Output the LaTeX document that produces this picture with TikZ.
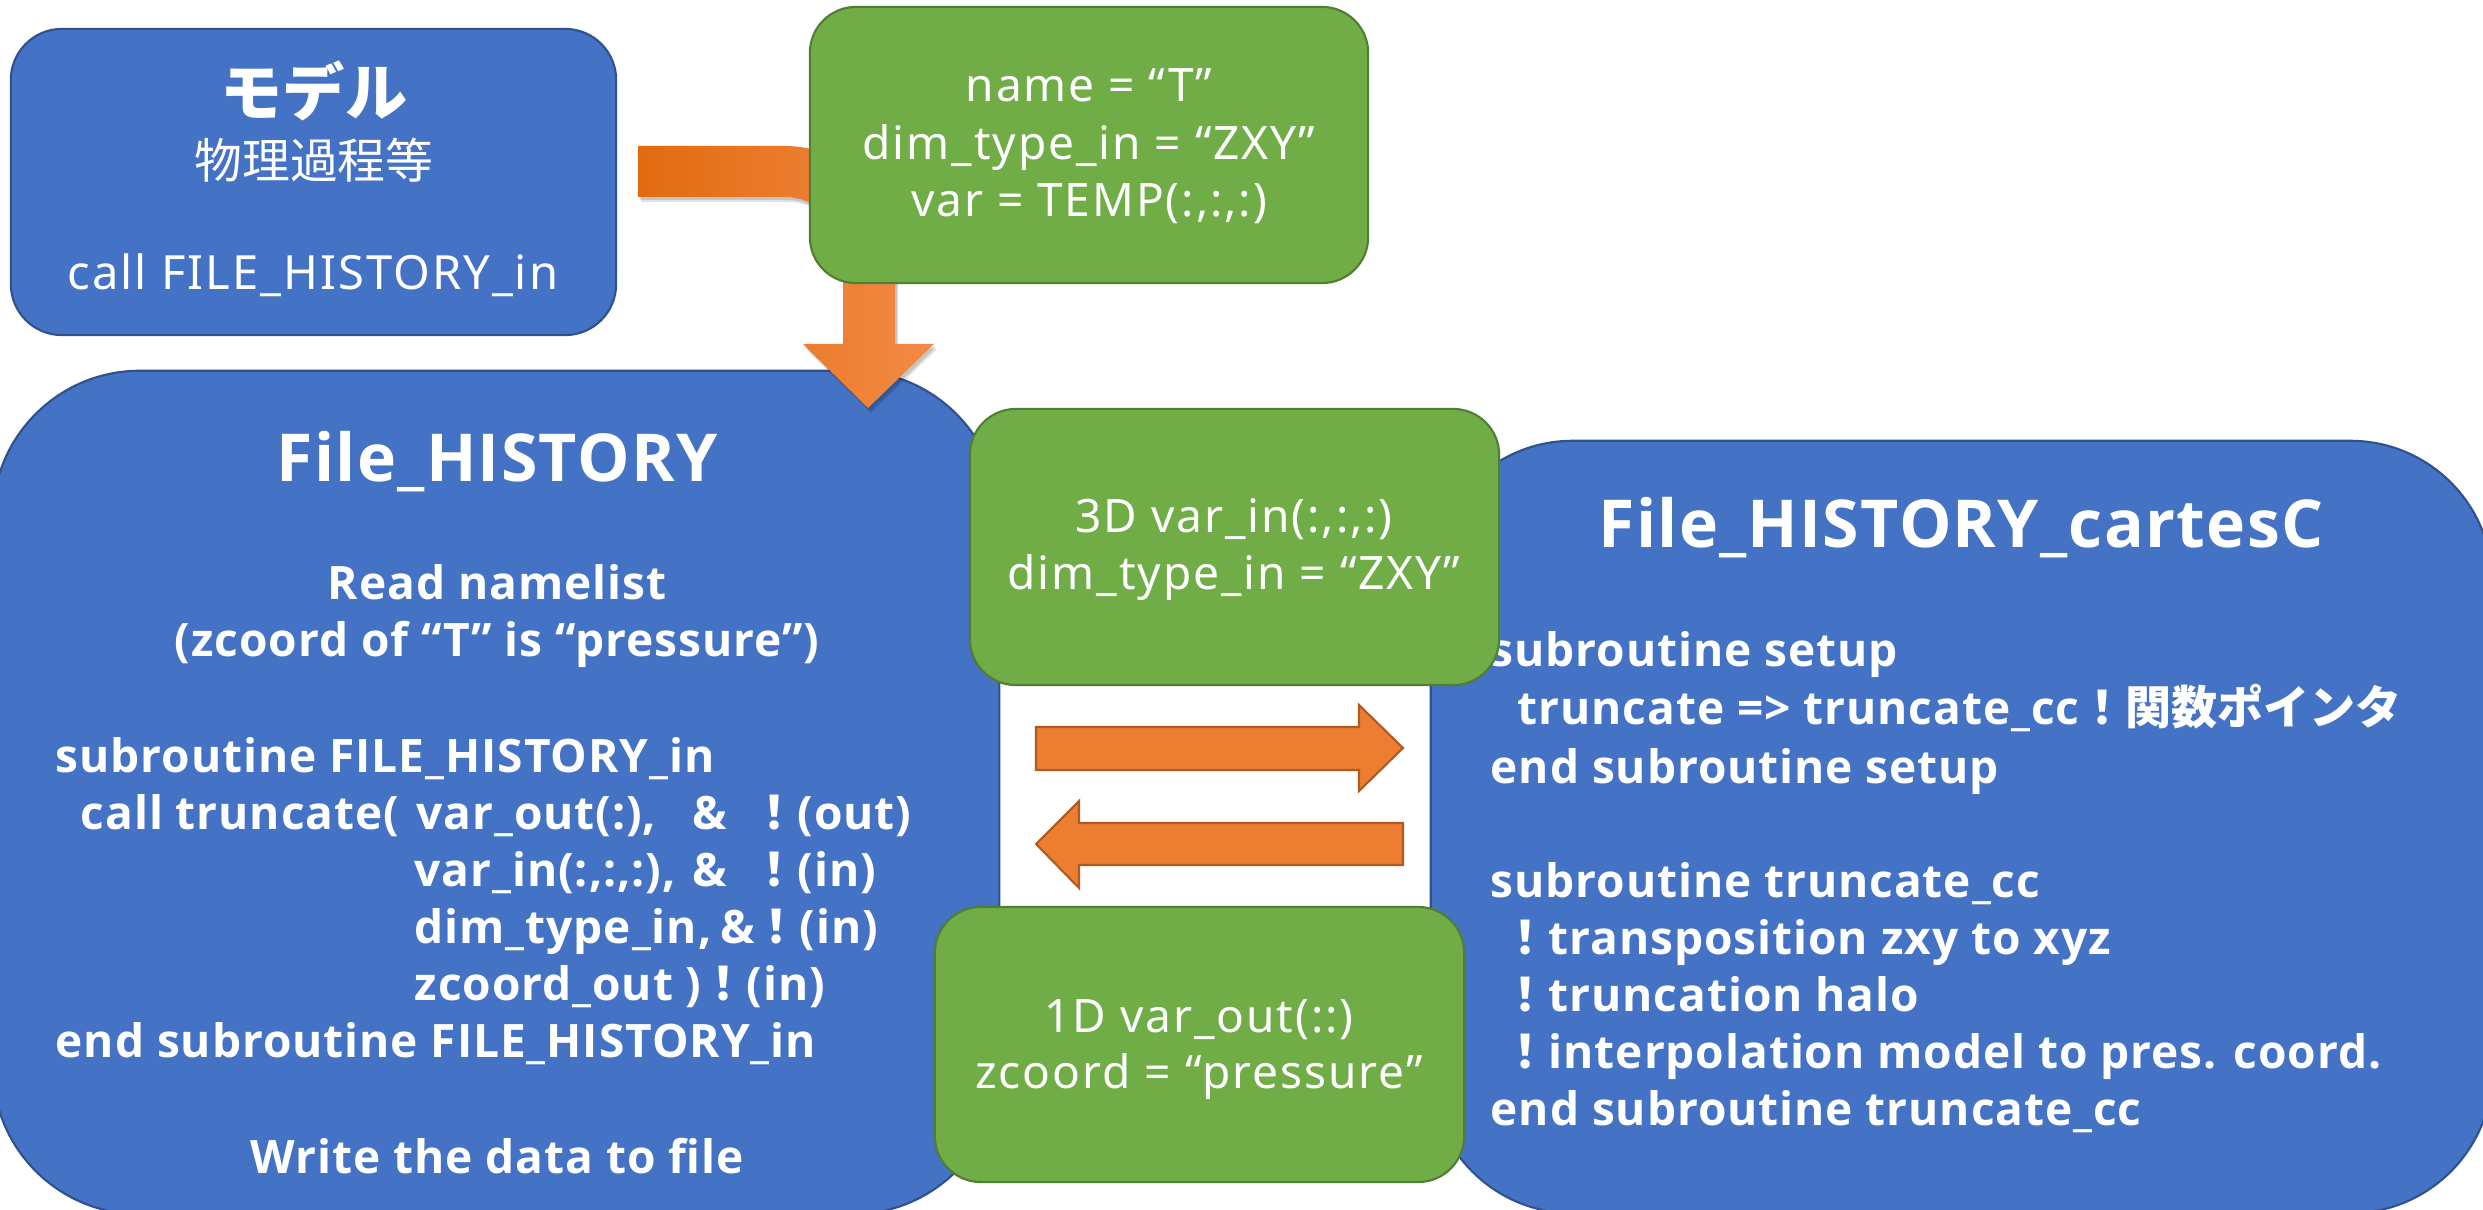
\documentclass[tikz,border=0pt]{standalone}
\usepackage{fontspec}
\setmainfont{Noto Sans}
\newfontfamily\lat{Open Sans}[LetterSpace=2]
\newfontfamily\latr{Noto Sans}[LetterSpace=4.2]
\newfontfamily\jp{Noto Sans CJK JP}
\newlength\px \setlength\px{0.01cm}
\definecolor{blueF}{HTML}{4472C4}
\definecolor{blueD}{HTML}{2F528F}
\definecolor{greenF}{HTML}{70AD47}
\definecolor{greenD}{HTML}{507E32}
\definecolor{orF}{HTML}{ED7D31}
\definecolor{orD}{HTML}{AE5A21}
\definecolor{orL}{HTML}{E26A10}
\definecolor{orR}{HTML}{F38B45}
\begin{document}
\begin{tikzpicture}[x=0.01cm,y=-0.01cm,
  bluebox/.style={draw=blueD, fill=blueF, line width=0.6pt, inner sep=0pt},
  greenbox/.style={draw=greenD, fill=greenF, line width=0.6pt, inner sep=0pt, rounded corners=0.46cm, minimum height=2.76cm},
  txt/.style={text=white, inner sep=0pt},
  codeb/.style={txt, anchor=base west, font=\lat\bfseries\fontsize{13.1pt}{16.4pt}\selectfont},
  codec/.style={txt, anchor=base, font=\lat\bfseries\fontsize{13.1pt}{16.4pt}\selectfont},
  titl/.style={txt, anchor=base, font=\lat\bfseries\fontsize{18.8pt}{22pt}\selectfont},
  gtxt/.style={txt, anchor=base, font=\latr\fontsize{13.1pt}{16.4pt}\selectfont},
  blockarrow/.style={fill=orF, draw=orD, line width=0.6pt}
]
\useasboundingbox (0,0) rectangle (2483,1210);

% model box
\node[bluebox, rounded corners=0.51cm, minimum width=6.05cm, minimum height=3.06cm] (model) at (313.5,182) {};
\node[txt, font=\jp\bfseries\fontsize{17.7pt}{21pt}\selectfont] (mdlA) at (314,91) {モデル};
\node[txt, font=\jp\fontsize{13.6pt}{16pt}\selectfont] (mdlB) at (314,160) {物理過程等};
\node[txt, anchor=base, font=\latr\fontsize{13.4pt}{15pt}\selectfont] (mdlC) at (313,290) {call FILE\_HISTORY\_in};

% big blue boxes
\node[bluebox, rounded corners=1.47cm, minimum width=10.06cm, minimum height=8.43cm] (hist) at (496,792.5) {};
\node[bluebox, rounded corners=1.42cm, minimum width=10.61cm, minimum height=7.72cm] (cartes) at (1961.5,827) {};

% File_HISTORY texts
\node[titl] (histT) at (497,482) {File\_HISTORY};
\node[codec] (h1) at (497,600) {Read namelist};
\node[codec] (h2) at (497,657) {(zcoord of “T” is “pressure”)};
\node[codeb] (h3) at (55,772) {subroutine FILE\_HISTORY\_in};
\node[codeb] (h4) at (80,829) {\makebox[336\px][l]{call truncate(}\makebox[276\px][l]{var\_out(:),}\makebox[59\px][l]{\&}{\jp ！}(out)};
\node[codeb] (h5) at (414,886) {\makebox[278\px][l]{var\_in(:,:,:),}\makebox[59\px][l]{\&}{\jp ！}(in)};
\node[codeb] (h6) at (414,943) {\makebox[306\px][l]{dim\_type\_in,}\makebox[33\px][l]{\&}{\jp ！}(in)};
\node[codeb] (h7) at (414,1000) {\makebox[286\px][l]{zcoord\_out )}{\jp ！}(in)};
\node[codeb] (h8) at (55,1057) {end subroutine FILE\_HISTORY\_in};
\node[codec] (h9) at (497,1173) {Write the data to file};

% File_HISTORY_cartesC texts
\node[titl] (cartT) at (1961,548) {File\_HISTORY\_cartesC};
\node[codeb] (c1) at (1490,667) {subroutine setup};
\node[codeb] (c2) at (1517,725) {truncate => truncate\_cc{\jp ！関数ポインタ}};
\node[codeb] (c3) at (1490,783) {end subroutine setup};
\node[codeb] (c4) at (1490,897) {subroutine truncate\_cc};
\node[codeb] (c5) at (1502,954) {{\jp ！}transposition zxy to xyz};
\node[codeb] (c6) at (1502,1011) {{\jp ！}truncation halo};
\node[codeb] (c7) at (1502,1068) {{\jp ！}interpolation model to pres. coord.};
\node[codeb] (c8) at (1490,1125) {end subroutine truncate\_cc};

% bent arrow (model -> File_HISTORY), passing behind the green box
\def\bentpath{(638,146) -- (785,146) arc[start angle=-90, end angle=0, radius=110]
  -- (895,344) -- (934,344) -- (868,408) -- (803,344) -- (843,344) -- (843,255)
  arc[start angle=0, end angle=-90, radius=58] -- (638,197) -- cycle}
\begin{scope}[shift={(3,5)}]
  \fill[black, opacity=0.12] \bentpath;
\end{scope}
\begin{scope}[shift={(2,3)}]
  \fill[black, opacity=0.12] \bentpath;
\end{scope}
\path[left color=orL, right color=orR] \bentpath;

% green boxes
\node[greenbox, minimum width=5.58cm] (gtop) at (1089,145) {};
\node[gtxt] (g1a) at (1089,102) {name = “T”};
\node[gtxt] (g1b) at (1089,160) {dim\_type\_in = “ZXY”};
\node[gtxt] (g1c) at (1089,217) {var = TEMP(:,:,:)};

\node[greenbox, minimum width=5.29cm] (g3d) at (1234.5,547) {};
\node[gtxt] (g2a) at (1234,533) {3D var\_in(:,:,:)};
\node[gtxt] (g2b) at (1234,590) {dim\_type\_in = “ZXY”};

\node[greenbox, minimum width=5.29cm, minimum height=2.75cm] (g1d) at (1199.5,1044.5) {};
\node[gtxt] (g3a) at (1199,1032) {1D var\_out(::)};
\node[gtxt] (g3b) at (1199,1088) {zcoord = “pressure”};

% exchange arrows
\draw[blockarrow] (1036,727) -- (1359,727) -- (1359,705) -- (1403,748) -- (1359,791) -- (1359,770) -- (1036,770) -- cycle;
\draw[blockarrow] (1403,823) -- (1079,823) -- (1079,801) -- (1036,844) -- (1079,888) -- (1079,865) -- (1403,865) -- cycle;
\end{tikzpicture}
\end{document}
